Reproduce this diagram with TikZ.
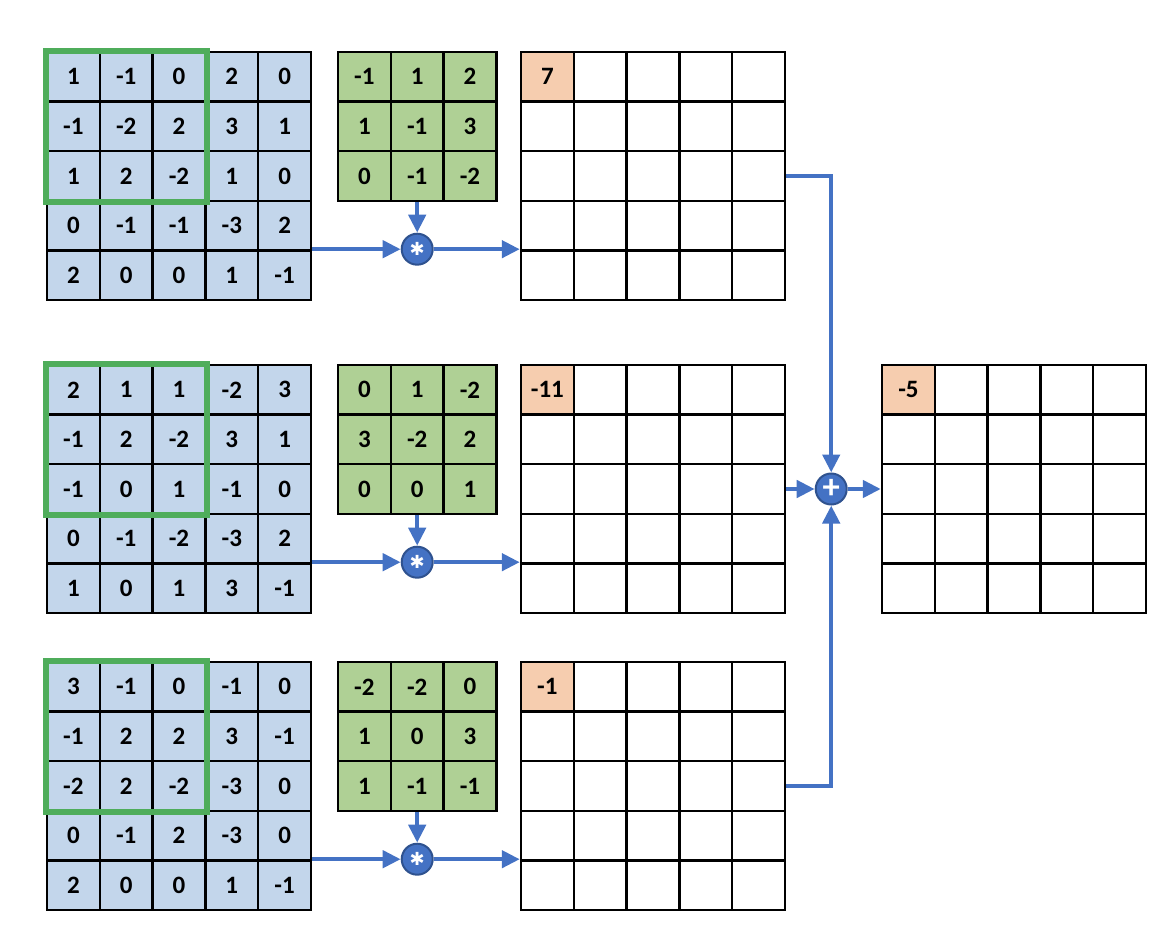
\documentclass[tikz,border=0pt]{standalone}
\usepackage{fontspec}
\setmainfont{Carlito}
\newfontfamily\symfont{DejaVu Sans}
\usetikzlibrary{arrows.meta}

\definecolor{cellblue}{HTML}{C3D6EB}
\definecolor{kergreen}{HTML}{AFD095}
\definecolor{wingreen}{HTML}{4FAD5B}
\definecolor{peach}{HTML}{F6CDAF}
\definecolor{arrowblue}{HTML}{4472C4}
\definecolor{opborder}{HTML}{2F528F}

\tikzset{
  cell/.style={draw=black,line width=1.2pt,minimum width=26.4pt,minimum height=24.8pt,
    inner sep=0pt,font=\bfseries\fontsize{12.5}{14}\selectfont},
  winbox/.style={draw=wingreen,line width=3pt},
  arr/.style={draw=arrowblue,line width=2.2pt,-{Triangle[length=9pt,width=8.5pt]}},
  op/.style={circle,fill=arrowblue,draw=opborder,line width=1pt,minimum size=15.5pt,
    inner sep=0pt,text=white}
}

% grid of numbered cells: name, x, y, fill, rows
\newcommand{\numgrid}[5]{%
  \foreach \row [count=\r] in {#5}{
    \foreach \v [count=\c] in \row{
      \draw ({#2+(\c-0.5)*52.8},{#3+(\r-0.5)*49.6}) node[cell,fill=#4] (#1-\r-\c) {\v};
    }}}

% empty 5x5 grid with the first value: name, x, y, value
\newcommand{\outgrid}[4]{%
  \foreach \r in {1,...,5}{
    \foreach \c in {1,...,5}{
      \draw ({#2+(\c-0.5)*52.8},{#3+(\r-0.5)*49.6}) node[cell,fill=white] (#1-\r-\c) {};
    }}
  \draw (#1-1-1) node[cell,fill=peach] (#1-v) {#4};}

\begin{document}
\begin{tikzpicture}[x=0.5pt,y=-0.5pt]
\useasboundingbox (0,0) rectangle (1150,952);

% first channel
\numgrid{in1}{47}{52}{cellblue}{{1,-1,0,2,0},{-1,-2,2,3,1},{1,2,-2,1,0},{0,-1,-1,-3,2},{2,0,0,1,-1}}
\draw[winbox] (in1-1-1.north west) rectangle (in1-3-3.south east);
\numgrid{k1}{338}{52}{kergreen}{{-1,1,2},{1,-1,3},{0,-1,-2}}
\outgrid{out1}{521}{52}{7}

% second channel
\numgrid{in2}{47}{365}{cellblue}{{2,1,1,-2,3},{-1,2,-2,3,1},{-1,0,1,-1,0},{0,-1,-2,-3,2},{1,0,1,3,-1}}
\draw[winbox] (in2-1-1.north west) rectangle (in2-3-3.south east);
\numgrid{k2}{338}{365}{kergreen}{{0,1,-2},{3,-2,2},{0,0,1}}
\outgrid{out2}{521}{365}{-11}

% third channel
\numgrid{in3}{47}{662}{cellblue}{{3,-1,0,-1,0},{-1,2,2,3,-1},{-2,2,-2,-3,0},{0,-1,2,-3,0},{2,0,0,1,-1}}
\draw[winbox] (in3-1-1.north west) rectangle (in3-3-3.south east);
\numgrid{k3}{338}{662}{kergreen}{{-2,-2,0},{1,0,3},{1,-1,-1}}
\outgrid{out3}{521}{662}{-1}

% sum
\outgrid{res}{882}{365}{-5}

% convolution operators
\foreach \i in {1,2,3}{
  \draw (k\i-3-2.south |- in\i-5-5.north east) node[op,font=\symfont\small] (conv\i) {✱};
  \draw[arr] (k\i-3-2.south) -- (conv\i.north);
  \draw[arr] (in\i-5-5.north east) -- (conv\i.west);
  \draw[arr] (conv\i.east) -- (out\i-5-1.north west);
}

\draw ([xshift=22.5pt]out2-3-5.east) node[op,font=\bfseries\LARGE] (sum) {+};
\draw[arr] (out1-3-5.east) -| (sum.north);
\draw[arr] (out3-3-5.east) -| (sum.south);
\draw[arr] (out2-3-5.east) -- (sum.west);
\draw[arr] (sum.east) -- (res-3-1.west);
\end{tikzpicture}
\end{document}
